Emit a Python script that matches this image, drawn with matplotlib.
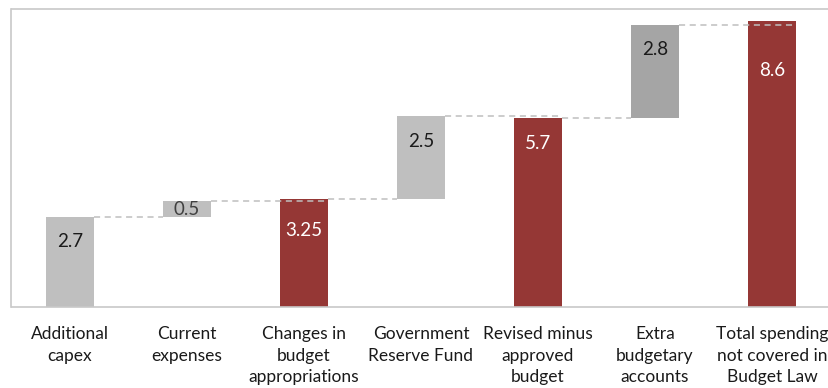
import matplotlib.pyplot as plt
import numpy as np

plt.rcParams['font.family'] = ['Lato', 'DejaVu Sans']

# waterfall steps (bn), totals marked True
categories = ["Additional\ncapex", "Current\nexpenses", "Changes in\nbudget\nappropriations",
              "Government\nReserve Fund", "Revised minus\napproved\nbudget",
              "Extra\nbudgetary\naccounts", "Total spending\nnot covered in\nBudget Law"]
values = [2.7, 0.5, 3.25, 2.5, 5.7, 2.8, 8.6]
is_total = [False, False, True, False, True, False, True]
labels = ["2.7", "0.5", "3.25", "2.5", "5.7", "2.8", "8.6"]

bar_colors = ["#BFBFBF", "#BFBFBF", "#953735", "#BFBFBF", "#953735", "#A5A5A5", "#953735"]
text_colors = ["#1A1A1A", "#404040", "white", "#1A1A1A", "white", "#1A1A1A", "white"]
label_drop = [24, None, 31, 25, 26, 25, 49]  # pixels below bar top, None = centred

# bottoms of the floating bars
bottoms = []
level = 0.0
for v, tot in zip(values, is_total):
    if tot:
        bottoms.append(0.0)
        level = v
    else:
        bottoms.append(level)
        level += v
tops = [b + v for b, v in zip(bottoms, values)]

W, H = 829, 388
fig = plt.figure(figsize=(W / 100, H / 100), dpi=100)
ax = fig.add_axes([11.5 / W, (H - 307) / H, 819 / W, (307 - 9.5) / H])

x = np.arange(len(values))
width = 0.41
ax.bar(x, values, width=width, bottom=bottoms, color=bar_colors, zorder=2)

# dashed connectors between consecutive bars
for i in range(len(values) - 1):
    x0 = x[i] + width / 2
    x1 = x[i + 1] + (width / 2 if is_total[i + 1] else -width / 2)
    ax.plot([x0, x1], [tops[i], tops[i]], color="#BFBFBF", lw=1.1,
            dashes=(4, 3), zorder=3)

for i in range(len(values)):
    if label_drop[i] is None:
        ax.text(x[i], bottoms[i] + values[i] / 2, labels[i], ha="center", va="center",
                fontsize=13.5, color=text_colors[i], zorder=4)
    else:
        ax.annotate(labels[i], (x[i], tops[i]), xytext=(0, -label_drop[i]),
                    textcoords="offset pixels", ha="center", va="center",
                    fontsize=13.5, color=text_colors[i], zorder=4)

ax.set_xlim(-0.5, len(values) - 0.5)
ax.set_ylim(0, 8.96)
ax.set_yticks([])
ax.set_xticks(x)
ax.set_xticklabels(categories, fontsize=12.5, linespacing=1.42, color="#1A1A1A", va="top")
ax.tick_params(axis="x", length=0, pad=14)
for s in ax.spines.values():
    s.set_color("#C8C8C8")
    s.set_linewidth(1.2)
ax.spines["right"].set_visible(False)

fig.savefig("out.png", dpi=100)
